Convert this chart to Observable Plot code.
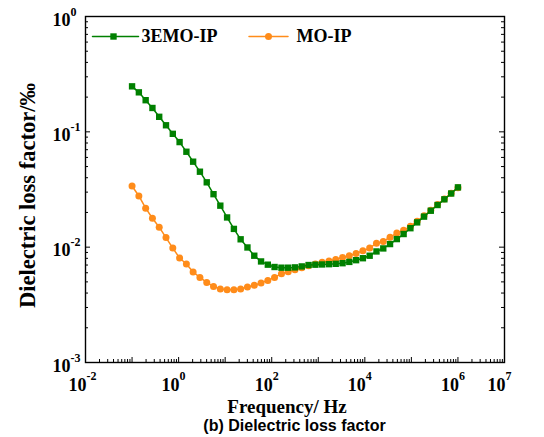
<!DOCTYPE html>
<html><head><meta charset="utf-8">
<script src="https://cdn.jsdelivr.net/npm/d3@7"></script>
<script src="https://cdn.jsdelivr.net/npm/@observablehq/plot@0.6"></script>
<style>
body{margin:0;background:#fff;}
#wrap{position:relative;width:544px;height:437px;}
#cap{position:absolute;left:85px;width:419px;top:417px;line-height:17px;font-family:"Liberation Sans",Arial,sans-serif;font-weight:bold;font-size:16px;text-align:center;color:#000;}
</style></head><body><div id="wrap"><div id="chart"></div><div id="cap">(b) Dielectric loss factor</div></div>
<script>
const seriesNames = ["3EMO-IP", "MO-IP"];
const freq = [0.1, 0.14, 0.196, 0.274, 0.383, 0.536, 0.75, 1.05, 1.47, 2.05, 2.87, 4.02, 5.62, 7.87, 11.0, 15.4, 21.5, 30.1, 42.2, 59.0, 82.5, 115, 162, 226, 316, 442, 619, 866, 1210, 1700, 2370, 3320, 4640, 6490, 9090, 12700, 17800, 24900, 34800, 48700, 68100, 95300, 133000, 187000, 261000, 365000, 511000, 715000, 1000000];
const loss3EMO = [0.248, 0.220, 0.188, 0.161, 0.135, 0.114, 0.0961, 0.0815, 0.0672, 0.0551, 0.0451, 0.0365, 0.0288, 0.0229, 0.0181, 0.0144, 0.0117, 0.00994, 0.00843, 0.00752, 0.00705, 0.00673, 0.00664, 0.00664, 0.00668, 0.00681, 0.00700, 0.00705, 0.00708, 0.00712, 0.00717, 0.00726, 0.00745, 0.00771, 0.00802, 0.00843, 0.00918, 0.00975, 0.01064, 0.01175, 0.0130, 0.0146, 0.0164, 0.0184, 0.0207, 0.0232, 0.0260, 0.0292, 0.0330];
const lossMO = [0.0339, 0.0278, 0.0218, 0.0178, 0.0149, 0.0121, 0.00982, 0.00805, 0.00714, 0.00609, 0.00547, 0.00495, 0.00457, 0.00434, 0.00428, 0.00428, 0.00434, 0.00452, 0.00467, 0.00490, 0.00515, 0.00547, 0.00589, 0.00612, 0.00638, 0.00664, 0.0069, 0.00715, 0.0074, 0.0076, 0.00783, 0.00815, 0.00843, 0.00883, 0.00931, 0.00982, 0.01084, 0.0112, 0.0122, 0.01324, 0.0140, 0.0152, 0.0168, 0.0187, 0.0209, 0.0234, 0.0262, 0.0294, 0.0328];
const xLabelExps = [-2, 0, 2, 4, 6, 7];
const yLabelExps = [-3, -2, -1, 0];
const xDomain = [1e-2, 1e7];
const yDomain = [1e-3, 1];

const GREEN = "#008000", ORANGE = "#ff8c1a";
const W = 544, H = 417, mL = 85, mR = 40, mT = 16, mB = 55;
const fw = W - mL - mR, fh = H - mT - mB;
const serif = "'Liberation Serif', 'Times New Roman', serif";

const xAll = d3.scaleLog().domain(xDomain).ticks();
const yAll = d3.scaleLog().domain(yDomain).ticks();
const isMajor = v => Math.abs(Math.log10(v) - Math.round(Math.log10(v))) < 1e-9;
const xMaj = xAll.filter(isMajor), xMin = xAll.filter(v => !isMajor(v));
const yMaj = yAll.filter(isMajor), yMin = yAll.filter(v => !isMajor(v));
const lineShape = {draw(ctx, l) { ctx.moveTo(0, 0); ctx.lineTo(0, -l); }};

const chart = Plot.plot({
  width: W, height: H, marginLeft: mL, marginRight: mR, marginTop: mT, marginBottom: mB,
  x: {type: "log", domain: xDomain, axis: null},
  y: {type: "log", domain: yDomain, axis: null},
  style: {fontFamily: serif, background: "white", color: "black"},
  marks: [
    Plot.ruleX(xMaj, {x: d => d, insetTop: fh - 5, stroke: "black", strokeWidth: 1}),
    Plot.ruleX(xMin, {x: d => d, insetTop: fh - 3, stroke: "black", strokeWidth: 1}),
    Plot.ruleY(yMaj, {y: d => d, insetRight: fw - 5, stroke: "black", strokeWidth: 1}),
    Plot.ruleY(yMin, {y: d => d, insetRight: fw - 3, stroke: "black", strokeWidth: 1}),
    Plot.ruleY(yMaj, {y: d => d, insetLeft: fw - 5, stroke: "black", strokeWidth: 1}),
    Plot.ruleY(yMin, {y: d => d, insetLeft: fw - 3, stroke: "black", strokeWidth: 1}),
    Plot.frame({stroke: "black", strokeWidth: 1.4}),
    Plot.line(lossMO, {x: (d, i) => freq[i], y: d => d, stroke: ORANGE, strokeWidth: 1.5}),
    Plot.dot(lossMO, {x: (d, i) => freq[i], y: d => d, symbol: "circle", r: 3.5, fill: ORANGE, stroke: null}),
    Plot.line(loss3EMO, {x: (d, i) => freq[i], y: d => d, stroke: GREEN, strokeWidth: 1.5}),
    Plot.dot(loss3EMO, {x: (d, i) => freq[i], y: d => d, symbol: "square", r: 3.6, fill: GREEN, stroke: null}),
    Plot.text(xLabelExps, {x: e => Math.pow(10, e), y: yDomain[0], text: () => "10", textAnchor: "end", lineAnchor: "bottom", dx: 1, dy: 28, fontSize: 18, fontWeight: "bold"}),
    Plot.text(xLabelExps, {x: e => Math.pow(10, e), y: yDomain[0], text: e => String(e), textAnchor: "start", lineAnchor: "bottom", dx: 1, dy: 17, fontSize: 12, fontWeight: "bold"}),
    Plot.text(yLabelExps, {x: xDomain[0], y: e => Math.pow(10, e), text: () => "10", textAnchor: "end", lineAnchor: "bottom", dx: -15, dy: 9, fontSize: 18, fontWeight: "bold"}),
    Plot.text(yLabelExps, {x: xDomain[0], y: e => Math.pow(10, e), text: e => String(e), textAnchor: "start", lineAnchor: "bottom", dx: -15, dy: -1, fontSize: 12, fontWeight: "bold"}),
    Plot.text(["Frequency/ Hz"], {frameAnchor: "bottom", textAnchor: "middle", lineAnchor: "middle", dy: 44, dx: -8, fontSize: 19, fontWeight: "bold"}),
    Plot.text(["Dielectric loss factor/‰"], {frameAnchor: "left", textAnchor: "middle", lineAnchor: "middle", rotate: -90, dx: -58, dy: 6, fontSize: 22.5, fontWeight: "bold"}),
    Plot.vector([seriesNames[0]], {frameAnchor: "top-left", dx: 30, dy: 20, length: 46, rotate: 90, anchor: "middle", shape: lineShape, stroke: GREEN, strokeWidth: 1.5}),
    Plot.dot([seriesNames[0]], {frameAnchor: "top-left", dx: 28, dy: 20, symbol: "square", r: 3.6, fill: GREEN, stroke: null}),
    Plot.text([seriesNames[0]], {frameAnchor: "top-left", dx: 56, dy: 20, text: d => d, textAnchor: "start", lineAnchor: "middle", fontSize: 18, fontWeight: "bold"}),
    Plot.vector([seriesNames[1]], {frameAnchor: "top-left", dx: 183, dy: 20, length: 39, rotate: 90, anchor: "middle", shape: lineShape, stroke: ORANGE, strokeWidth: 1.5}),
    Plot.dot([seriesNames[1]], {frameAnchor: "top-left", dx: 183, dy: 20, symbol: "circle", r: 3.5, fill: ORANGE, stroke: null}),
    Plot.text([seriesNames[1]], {frameAnchor: "top-left", dx: 211, dy: 20, text: d => d, textAnchor: "start", lineAnchor: "middle", fontSize: 18, fontWeight: "bold"})
  ]
});
document.getElementById("chart").appendChild(chart);
</script>
</body></html>
